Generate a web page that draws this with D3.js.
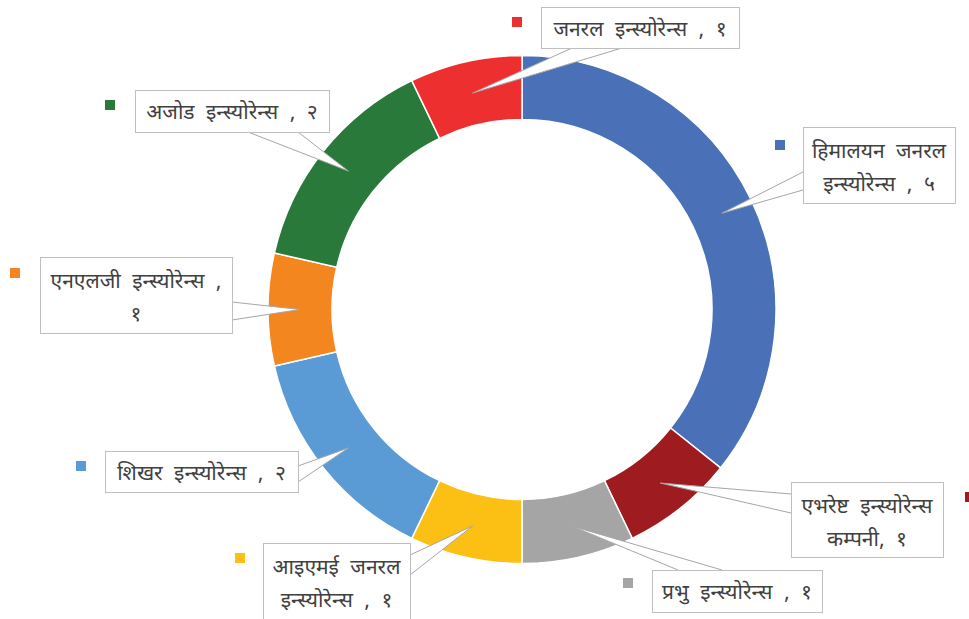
<!DOCTYPE html>
<html>
<head>
<meta charset="utf-8">
<script src="https://cdn.jsdelivr.net/npm/d3@7"></script>
<style>
  body { margin: 0; background: #fff; }
  svg { display: block; }
  .lbl { font-family: "Noto Sans Devanagari", "Noto Sans", "DejaVu Sans", sans-serif; font-size: 21px; word-spacing: 6px; fill: #404040; }
</style>
</head>
<body>
<svg id="chart" width="969" height="619"></svg>
<script>
// data, clockwise from 12 o'clock
var companies = ["हिमालयन जनरल इन्स्योरेन्स", "एभरेष्ट इन्स्योरेन्स कम्पनी", "प्रभु इन्स्योरेन्स",
  "आइएमई जनरल इन्स्योरेन्स", "शिखर इन्स्योरेन्स", "एनएलजी इन्स्योरेन्स", "अजोड इन्स्योरेन्स", "जनरल इन्स्योरेन्स"];
var counts = [5, 1, 1, 1, 2, 1, 2, 1];
// label text as shown (lines)
var labelLines = [
  ["हिमालयन जनरल", "इन्स्योरेन्स , ५"],
  ["एभरेष्ट इन्स्योरेन्स", "कम्पनी, १"],
  ["प्रभु इन्स्योरेन्स , १"],
  ["आइएमई जनरल", "इन्स्योरेन्स , १"],
  ["शिखर इन्स्योरेन्स , २"],
  ["एनएलजी इन्स्योरेन्स ,", "१"],
  ["अजोड इन्स्योरेन्स , २"],
  ["जनरल इन्स्योरेन्स , १"]
];
var colors = ["#4a71b8", "#9e1c20", "#a5a5a5", "#fcbf14", "#5b9bd5", "#f4861f", "#29793b", "#ee2f2f"];

var svg = d3.select("svg#chart");
var width = +svg.attr("width"), height = +svg.attr("height");

var cx = 522, cy = 309.5, outerR = 254, innerR = 190;

var pie = d3.pie().sort(null).value(function(d){ return d; });
var arcs = pie(counts);
var arc = d3.arc().innerRadius(innerR).outerRadius(outerR);
var midArc = d3.arc().innerRadius((innerR+outerR)/2).outerRadius((innerR+outerR)/2);

var plot = svg.append("g").attr("transform", "translate(" + cx + "," + cy + ")");

plot.selectAll("path.slice")
  .data(arcs)
  .enter().append("path")
    .attr("class", "slice")
    .attr("d", arc)
    .attr("fill", function(d,i){ return colors[i]; })
    .attr("stroke", "#fff")
    .attr("stroke-width", 1.5);

// label boxes (layout only): box x,y,w,h ; pointer base points ; legend square
var boxes = [
  {x: 803, y: 127, w: 152, h: 76, base: [[803,172],[803,190]], sq: [775,140]},
  {x: 791, y: 482, w: 152, h: 75, base: [[791,494],[791,513]], sq: [965,492]},
  {x: 652, y: 570, w: 170, h: 42, base: [[678,570],[722,570]], sq: [623,578]},
  {x: 263, y: 543, w: 147, h: 80, base: [[410,555],[410,575]], sq: [235,553]},
  {x: 105, y: 451, w: 193, h: 41, base: [[298,466],[298,482]], sq: [76,461]},
  {x: 40,  y: 257, w: 192, h: 76, base: [[232,302],[232,320]], sq: [10,268]},
  {x: 135, y: 90,  w: 194, h: 42, base: [[248,132],[298,132]], sq: [105,100]},
  {x: 541, y: 7,   w: 198, h: 41, base: [[572,48],[622,48]], sq: [512,17]}
];

var labels = svg.append("g");

arcs.forEach(function(a, i) {
  var b = boxes[i];
  var c = midArc.centroid(a);
  var tip = [cx + c[0], cy + c[1]];
  var g = labels.append("g");

  // callout pointer
  g.append("path")
    .attr("d", "M" + b.base[0] + "L" + tip + "L" + b.base[1] + "Z")
    .attr("fill", "#fff");
  g.append("path")
    .attr("d", "M" + b.base[0] + "L" + tip + "L" + b.base[1])
    .attr("fill", "none")
    .attr("stroke", "#a6a6a6")
    .attr("stroke-width", 1);

  g.append("rect")
    .attr("x", b.x + 0.5).attr("y", b.y + 0.5)
    .attr("width", b.w).attr("height", b.h)
    .attr("fill", "#fff")
    .attr("stroke", "#bfbfbf")
    .attr("stroke-width", 1);

  var lines = labelLines[i];
  var first = lines.length === 1 ? 29 : 31;
  lines.forEach(function(t, j) {
    g.append("text")
      .attr("class", "lbl")
      .attr("x", b.x + b.w/2)
      .attr("y", b.y + first + j*33)
      .attr("text-anchor", "middle")
      .text(t);
  });

  g.append("rect")
    .attr("x", b.sq[0]).attr("y", b.sq[1])
    .attr("width", 10).attr("height", 10)
    .attr("fill", colors[i]);
});
</script>
</body>
</html>
